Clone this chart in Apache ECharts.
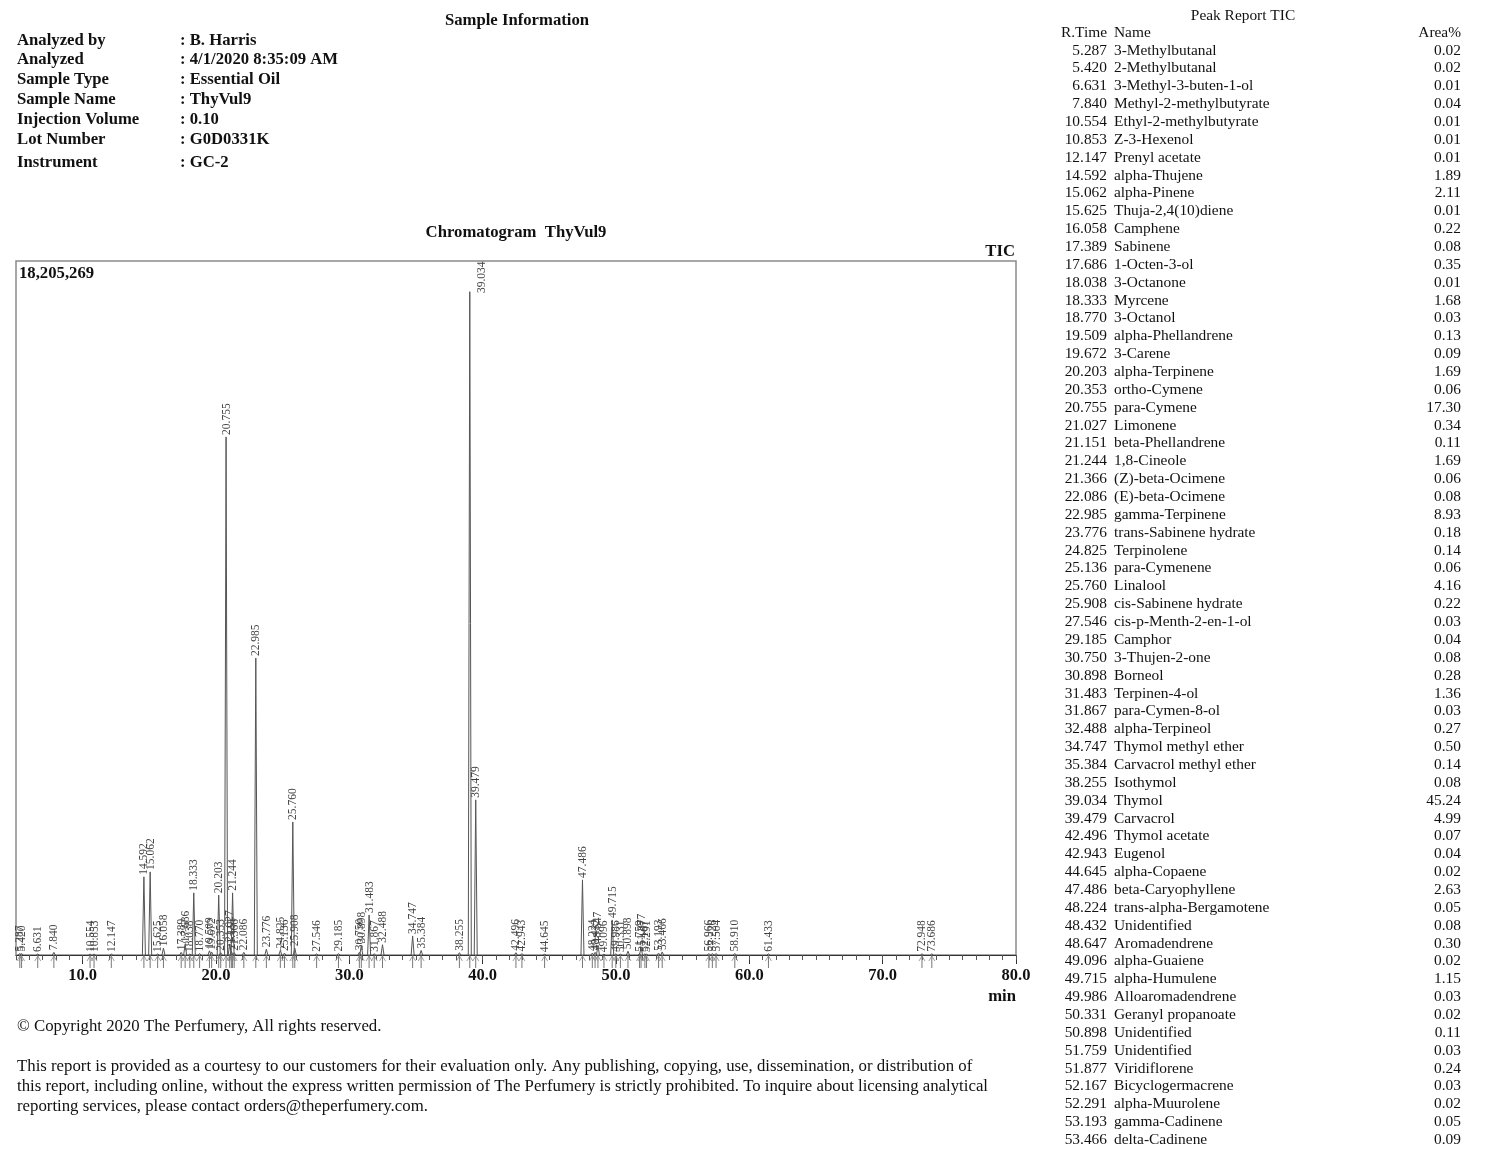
<!DOCTYPE html>
<html>
<head>
<meta charset="utf-8">
<script src="https://cdn.jsdelivr.net/npm/echarts@6/dist/echarts.min.js"></script>
<style>
html,body{margin:0;padding:0;background:#fff;}
#chart{width:1500px;height:1160px;}
</style>
</head>
<body>
<div id="chart"></div>
<script>
// ---- Sample information ----
var infoLabels = ['Analyzed by','Analyzed','Sample Type','Sample Name','Injection Volume','Lot Number','Instrument'];
var infoValues = [': B. Harris',': 4/1/2020 8:35:09 AM',': Essential Oil',': ThyVul9',': 0.10',': G0D0331K',': GC-2'];

// ---- Chromatogram peaks (retention time in min, height in counts) ----
var peakTimes = [5.287,5.420,6.631,7.840,10.554,10.853,12.147,14.592,15.062,15.625,16.058,17.389,17.686,18.038,18.333,18.770,19.509,19.672,20.203,20.353,20.755,21.027,21.151,21.244,21.366,22.086,22.985,23.776,24.825,25.136,25.760,25.908,27.546,29.185,30.750,30.898,31.483,31.867,32.488,34.747,35.384,38.255,39.034,39.479,42.496,42.943,44.645,47.486,48.224,48.432,48.647,49.096,49.715,49.986,50.331,50.898,51.759,51.877,52.167,52.291,53.193,53.466,56.966,57.226,57.504,58.910,61.433,72.948,73.686];
var peakHeights = [40000,40000,25000,70000,25000,25000,25000,2050000,2180000,25000,180000,70000,280000,25000,1630000,40000,110000,80000,1570000,60000,13590000,290000,100000,1630000,60000,70000,7790000,150000,120000,50000,3490000,180000,30000,40000,70000,250000,1050000,30000,270000,500000,120000,60000,17400000,4070000,60000,40000,20000,1970000,50000,70000,250000,20000,920000,30000,20000,100000,30000,200000,30000,20000,50000,80000,40000,40000,40000,40000,30000,30000,30000];
var maxIntensity = 18205269;
var xTickLabels = [10,20,30,40,50,60,70,80];

// ---- Peak report table ----
var reportTimes = ['5.287','5.420','6.631','7.840','10.554','10.853','12.147','14.592','15.062','15.625','16.058','17.389','17.686','18.038','18.333','18.770','19.509','19.672','20.203','20.353','20.755','21.027','21.151','21.244','21.366','22.086','22.985','23.776','24.825','25.136','25.760','25.908','27.546','29.185','30.750','30.898','31.483','31.867','32.488','34.747','35.384','38.255','39.034','39.479','42.496','42.943','44.645','47.486','48.224','48.432','48.647','49.096','49.715','49.986','50.331','50.898','51.759','51.877','52.167','52.291','53.193','53.466'];
var reportNames = ['3-Methylbutanal','2-Methylbutanal','3-Methyl-3-buten-1-ol','Methyl-2-methylbutyrate','Ethyl-2-methylbutyrate','Z-3-Hexenol','Prenyl acetate','alpha-Thujene','alpha-Pinene','Thuja-2,4(10)diene','Camphene','Sabinene','1-Octen-3-ol','3-Octanone','Myrcene','3-Octanol','alpha-Phellandrene','3-Carene','alpha-Terpinene','ortho-Cymene','para-Cymene','Limonene','beta-Phellandrene','1,8-Cineole','(Z)-beta-Ocimene','(E)-beta-Ocimene','gamma-Terpinene','trans-Sabinene hydrate','Terpinolene','para-Cymenene','Linalool','cis-Sabinene hydrate','cis-p-Menth-2-en-1-ol','Camphor','3-Thujen-2-one','Borneol','Terpinen-4-ol','para-Cymen-8-ol','alpha-Terpineol','Thymol methyl ether','Carvacrol methyl ether','Isothymol','Thymol','Carvacrol','Thymol acetate','Eugenol','alpha-Copaene','beta-Caryophyllene','trans-alpha-Bergamotene','Unidentified','Aromadendrene','alpha-Guaiene','alpha-Humulene','Alloaromadendrene','Geranyl propanoate','Unidentified','Unidentified','Viridiflorene','Bicyclogermacrene','alpha-Muurolene','gamma-Cadinene','delta-Cadinene'];
var reportAreas = ['0.02','0.02','0.01','0.04','0.01','0.01','0.01','1.89','2.11','0.01','0.22','0.08','0.35','0.01','1.68','0.03','0.13','0.09','1.69','0.06','17.30','0.34','0.11','1.69','0.06','0.08','8.93','0.18','0.14','0.06','4.16','0.22','0.03','0.04','0.08','0.28','1.36','0.03','0.27','0.50','0.14','0.08','45.24','4.99','0.07','0.04','0.02','2.63','0.05','0.08','0.30','0.02','1.15','0.03','0.02','0.11','0.03','0.24','0.03','0.02','0.05','0.09'];

var footerLines = [
  'This report is provided as a courtesy to our customers for their evaluation only. Any publishing, copying, use, dissemination, or distribution of',
  'this report, including online, without the express written permission of The Perfumery is strictly prohibited. To inquire about licensing analytical',
  'reporting services, please contact orders@theperfumery.com.'
];

var SERIF = '"Liberation Serif","Times New Roman",serif';
var chart = echarts.init(document.getElementById('chart'), null, {renderer:'canvas'});

var graphics = [];
function txt(x, y, s, opt) {
  opt = opt || {};
  graphics.push({type:'text', x:x, y:y + 1.5, silent:true, style:{
    text:s, font:(opt.bold?'bold ':'') + (opt.size||16.7) + 'px ' + SERIF,
    fill:opt.color||'#111', align:opt.align||'left', verticalAlign:'middle'}});
}
txt(517, 19, 'Sample Information', {bold:true, align:'center'});
var infoY = [39,58,78,98,118,138,161];
infoLabels.forEach(function(l, i){ txt(17, infoY[i], l, {bold:true}); txt(180, infoY[i], infoValues[i], {bold:true}); });
txt(516, 231, 'Chromatogram  ThyVul9', {bold:true, align:'center'});
txt(1015, 250, 'TIC', {bold:true, align:'right'});
txt(19, 272, maxIntensity.toLocaleString('en-US'), {bold:true});
txt(1016, 995, 'min', {bold:true, align:'right'});

txt(1243, 14, 'Peak Report TIC', {size:15.4, align:'center'});
txt(1107, 31, 'R.Time', {size:15.4, align:'right'});
txt(1114, 31, 'Name', {size:15.4});
txt(1461, 31, 'Area%', {size:15.4, align:'right'});
reportTimes.forEach(function(t, i){
  var y = 49 + i * 17.86;
  txt(1107, y, t, {size:15.4, align:'right'});
  txt(1114, y, reportNames[i], {size:15.4});
  txt(1461, y, reportAreas[i], {size:15.4, align:'right'});
});

txt(17, 1025, '\u00A9 Copyright 2020 The Perfumery, All rights reserved.', {size:16.8});
footerLines.forEach(function(l, i){ txt(17, 1065 + i*20, l, {size:16.8}); });

var peakData = peakTimes.map(function(t, i){ return [t, peakHeights[i]]; });

chart.setOption({
  animation:false,
  backgroundColor:'#fff',
  grid:{left:16, right:484, top:261, bottom:205, show:true, borderColor:'#8a8a8a', borderWidth:1.5, backgroundColor:'transparent'},
  xAxis:[{
    type:'value', min:5, max:80, position:'bottom',
    axisLine:{show:true, lineStyle:{color:'#333', width:1}},
    axisTick:{show:true, customValues:xTickLabels, length:9, lineStyle:{color:'#333'}},
    axisLabel:{show:true, customValues:xTickLabels, margin:12, formatter:function(v){return v.toFixed(1);},
      fontFamily:SERIF, fontWeight:'bold', fontSize:16.5, color:'#111'},
    splitLine:{show:false}
  },{
    type:'value', min:5, max:80, interval:1, position:'bottom',
    axisLine:{show:false},
    axisTick:{show:true, length:5, lineStyle:{color:'#555'}},
    axisLabel:{show:false}, splitLine:{show:false}
  }],
  yAxis:{type:'value', min:0, max:maxIntensity, show:false, splitLine:{show:false}},
  series:[{
    type:'custom', xAxisIndex:0, data:peakData, silent:true,
    renderItem:function(params, api){
      var rt = api.value(0), h = api.value(1);
      var top = api.coord([rt, h]);
      var base = api.coord([rt, 0]);
      var cs = params.coordSys;
      var children = [
        {type:'polyline', shape:{points:[[base[0]-1.5, base[1]],[top[0], top[1]],[base[0]+1.5, base[1]]]},
          style:{stroke:'#555', fill:null, lineWidth:1}},
        {type:'line', shape:{x1:base[0], y1:base[1], x2:base[0], y2:base[1]+13}, style:{stroke:'#777', lineWidth:1}},
        {type:'polyline', shape:{points:[[base[0]-3, base[1]+6],[base[0], base[1]+1],[base[0]+3, base[1]+6]]}, style:{stroke:'#888', fill:null, lineWidth:0.8}}
      ];
      var label = rt.toFixed(3);
      var tw = 30;
      var lx = top[0] + 0.5, ly = top[1] - 2;
      if (ly - tw < cs.y) { lx = top[0] + 12; ly = cs.y + 2 + tw; }
      children.push({type:'text', x:lx, y:ly, rotation:Math.PI/2,
        style:{text:label, font:'11.5px ' + SERIF, fill:'#444', align:'left', verticalAlign:'middle'}});
      return {type:'group', children:children};
    }
  }],
  graphic:graphics
});
</script>
</body>
</html>
